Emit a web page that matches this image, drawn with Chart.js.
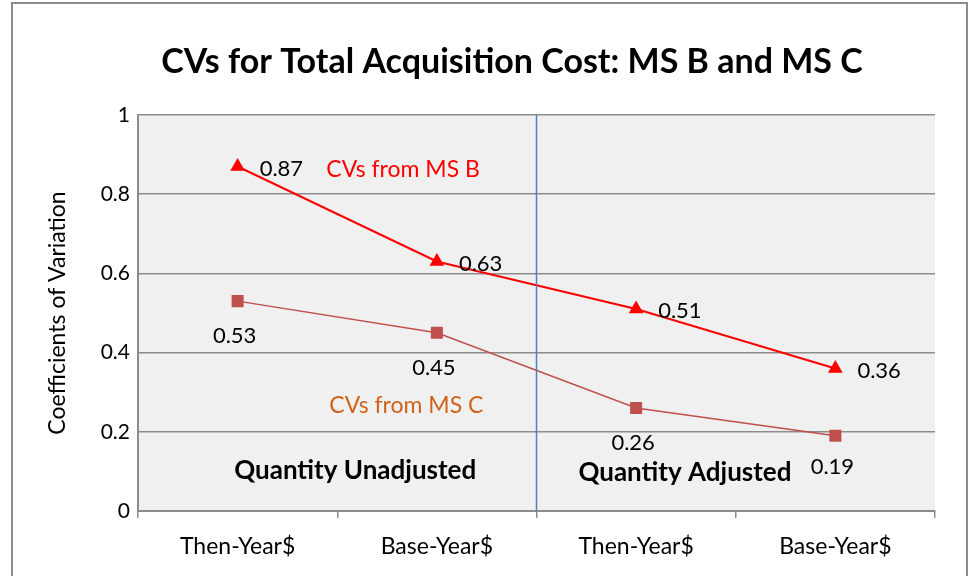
<!DOCTYPE html>
<html>
<head>
<meta charset="utf-8">
<script src="https://cdn.jsdelivr.net/npm/chart.js@4"></script>
<style>
  html, body { margin: 0; padding: 0; background: #fff; }
  #wrap { width: 971px; height: 576px; position: relative; }
</style>
</head>
<body>
<div id="wrap"><canvas id="myChart" width="971" height="576"></canvas></div>
<script>
const labels = ['Then-Year$', 'Base-Year$', 'Then-Year$', 'Base-Year$'];
const msB = [0.87, 0.63, 0.51, 0.36];
const msC = [0.53, 0.45, 0.26, 0.19];
const yTicks = [0, 0.2, 0.4, 0.6, 0.8, 1];

const FONT = 'Lato, "Open Sans", sans-serif';

// frame, plot background, divider line, titles and value labels
const decor = {
  id: 'decor',
  beforeDraw(chart) {
    const { ctx, chartArea: a } = chart;
    ctx.save();
    ctx.fillStyle = '#fff';
    ctx.fillRect(0, 0, chart.width, chart.height);
    ctx.strokeStyle = '#8c8c8c';
    ctx.lineWidth = 2;
    ctx.strokeRect(12, 3, 955, 600);
    ctx.fillStyle = '#f0f0f0';
    ctx.fillRect(a.left, a.top, a.right - a.left, a.bottom - a.top);
    ctx.restore();
  },
  afterDatasetsDraw(chart) {
    const { ctx, chartArea: a, scales } = chart;
    const x = scales.x;
    const y = scales.y;
    ctx.save();
    // divider between the two groups
    const mid = (x.getPixelForValue(1) + x.getPixelForValue(2)) / 2;
    ctx.strokeStyle = '#4f81bd';
    ctx.lineWidth = 1.5;
    ctx.beginPath();
    ctx.moveTo(mid, a.top);
    ctx.lineTo(mid, a.bottom);
    ctx.stroke();

    // title
    ctx.fillStyle = '#000';
    ctx.textAlign = 'center';
    ctx.textBaseline = 'middle';
    ctx.font = 'bold 34px ' + FONT;
    ctx.fillText('CVs for Total Acquisition Cost: MS B and MS C', 512, 62);

    // y axis title
    ctx.save();
    ctx.translate(58, 313);
    ctx.rotate(-Math.PI / 2);
    ctx.font = '23px ' + FONT;
    ctx.fillText('Coefficients of Variation', 0, 0);
    ctx.restore();

    // value labels
    ctx.font = '22px ' + FONT;
    const mB = chart.getDatasetMeta(0);
    ctx.textAlign = 'left';
    mB.data.forEach((pt, i) => {
      ctx.fillText(msB[i].toFixed(2), pt.x + 22, pt.y + 2);
    });
    const mC = chart.getDatasetMeta(1);
    ctx.textAlign = 'center';
    mC.data.forEach((pt, i) => {
      const dy = i === 3 ? 31 : 35;
      ctx.fillText(msC[i].toFixed(2), pt.x - 3, pt.y + dy);
    });

    // series notes
    ctx.font = '23px ' + FONT;
    ctx.textAlign = 'left';
    ctx.fillStyle = '#ff0000';
    ctx.fillText('CVs from MS B', x.getPixelForValue(0.445), y.getPixelForValue(0.861));
    ctx.fillStyle = '#d0621a';
    ctx.fillText('CVs from MS C', x.getPixelForValue(0.46), y.getPixelForValue(0.265));

    // group names
    ctx.fillStyle = '#000';
    ctx.font = 'bold 26px ' + FONT;
    ctx.textAlign = 'center';
    ctx.fillText('Quantity Unadjusted', x.getPixelForValue(0.59), y.getPixelForValue(0.101));
    ctx.fillText('Quantity Adjusted', x.getPixelForValue(2.245), y.getPixelForValue(0.096));
    ctx.restore();
  }
};

const ctx = document.getElementById('myChart').getContext('2d');
const chart = new Chart(ctx, {
  type: 'line',
  data: {
    labels,
    datasets: [
      {
        label: 'MS B',
        data: msB,
        borderColor: '#ff0000',
        borderWidth: 2,
        backgroundColor: '#ff0000',
        pointStyle: 'triangle',
        pointRadius: 8.5,
        pointBorderWidth: 0,
        tension: 0,
      },
      {
        label: 'MS C',
        data: msC,
        borderColor: '#c0504d',
        borderWidth: 1.5,
        backgroundColor: '#c0504d',
        pointStyle: 'rect',
        pointRadius: 8.5,
        pointBorderWidth: 0,
        tension: 0,
      },
    ],
  },
  options: {
    responsive: false,
    animation: false,
    layout: {
      padding: { left: 78, top: 115, right: 36, bottom: 0 },
    },
    plugins: {
      legend: { display: false },
      tooltip: { enabled: false },
    },
    scales: {
      x: {
        offset: true,
        grid: {
          offset: true,
          drawOnChartArea: false,
          color: '#8c8c8c',
          lineWidth: 1.5,
          tickLength: 7,
        },
        border: { color: '#8c8c8c', width: 2 },
        ticks: {
          color: '#000',
          font: { family: FONT, size: 23 },
          padding: 15,
          maxRotation: 0,
        },
        afterFit(s) { s.height = 65; },
      },
      y: {
        min: 0,
        max: 1,
        afterBuildTicks(s) { s.ticks = yTicks.map(v => ({ value: v })); },
        grid: {
          color: '#8c8c8c',
          lineWidth: 1.5,
          drawTicks: false,
        },
        border: { color: '#8c8c8c', width: 2 },
        ticks: {
          color: '#000',
          font: { family: FONT, size: 21 },
          padding: 8,
          callback: v => String(v),
        },
        afterFit(s) { s.width = 60; },
      },
    },
  },
  plugins: [decor],
});
</script>
</body>
</html>
